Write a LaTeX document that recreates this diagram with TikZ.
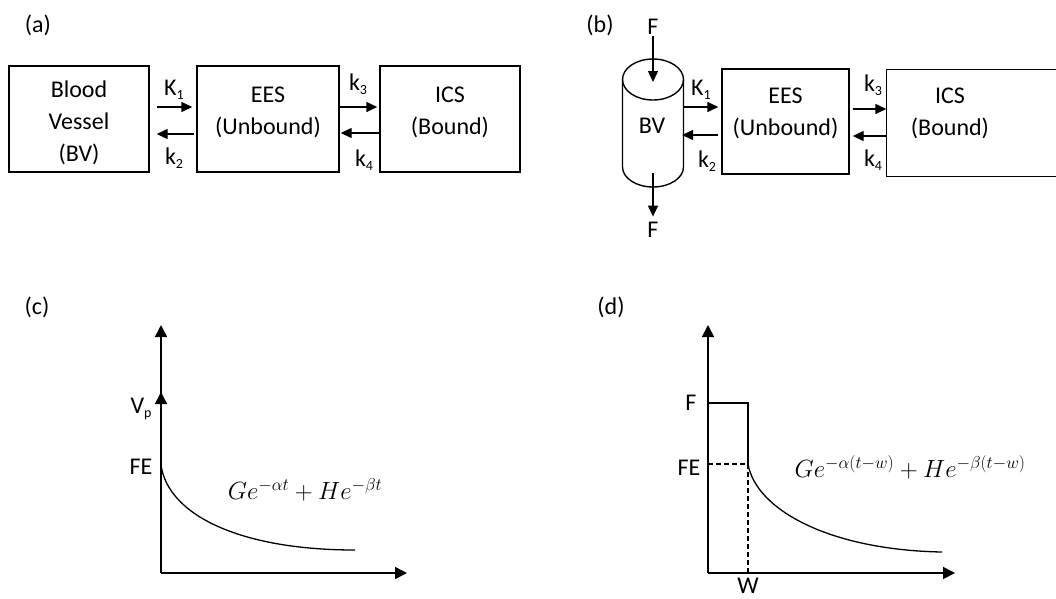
\documentclass[tikz,border=0pt]{standalone}
\usepackage{fontspec}
\setmainfont{Carlito}
\usetikzlibrary{arrows.meta}

% small lowered index for rate constants
\newcommand{\rsub}[1]{\raisebox{-4pt}{\fontsize{14}{14}\selectfont #1}}

\begin{document}
\begin{tikzpicture}[
    x=1pt, y=-1pt, line width=1.4pt,
    >={Triangle[length=11pt, width=10pt]},
    lbl/.style={inner sep=1pt, align=center, font=\fontsize{24}{32}\selectfont},
    box/.style={draw, rectangle, minimum height=106pt},
    flow/.style={->, line width=1.4pt},
    axis/.style={-{Triangle[length=12pt, width=12pt]}, line width=1.6pt},
    guide/.style={dash pattern=on 5pt off 3pt, line width=1.2pt}
]
\useasboundingbox (0,0) rectangle (1056,598);
\clip (0,0) rectangle (1056,598);

% -------------------------
% (a) Three compartments
% -------------------------
\node[lbl] (taga) at (38,25) {(a)};
\node[box, minimum width=140pt] (bva) at (79,119) {};
\node[box, minimum width=142pt] (eesa) at (268,119) {};
\node[box, minimum width=140pt] (icsa) at (450,119) {};
\node[lbl] (bvatext) at ([yshift=-4pt]bva.center) {Blood\\Vessel\\(BV)};
\node[lbl] (eesatext) at ([yshift=7pt]eesa.center) {EES\\(Unbound)};
\node[lbl] (icsatext) at ([yshift=7pt]icsa.center) {ICS\\(Bound)};

% rate arrows
\draw[flow, shorten <=7pt, shorten >=4pt] ([yshift=12pt]bva.east) -- ([yshift=12pt]eesa.west);
\draw[flow, shorten <=2pt, shorten >=7pt] ([yshift=-15pt]eesa.west) -- ([yshift=-15pt]bva.east);
\draw[flow, shorten >=2pt] ([yshift=12pt]eesa.east) -- ([yshift=12pt]icsa.west);
\draw[flow, shorten >=1pt] ([yshift=-14pt]icsa.west) -- ([yshift=-14pt]eesa.east);
\node[lbl] (k1a) at (174,90) {K\rsub{1}};
\node[lbl] (k2a) at (174,158) {k\rsub{2}};
\node[lbl] (k3a) at (358,84) {k\rsub{3}};
\node[lbl] (k4a) at (364,160) {k\rsub{4}};

% -------------------------
% (b) Vessel with flow
% -------------------------
\node[lbl] (tagb) at (600,25) {(b)};
\coordinate (cyltop) at (653,79.5);
\coordinate (cylbot) at (653,167);
\draw (cyltop) ellipse [x radius=30.5, y radius=20.5];
\draw ([xshift=-30.5pt]cyltop) -- ([xshift=-30.5pt]cylbot)
    arc [start angle=180, end angle=0, x radius=30.5, y radius=20]
    -- ([xshift=30.5pt]cyltop);
\node[lbl] (bvb) at (652,126) {BV};
\node[box, minimum width=127pt, minimum height=105pt] (eesb) at (785.5,121.5) {};
\node[box, draw=none, minimum width=126pt] (icsb) at (950,123) {};
\draw ([xshift=200pt]icsb.north west) -- (icsb.north west) -- (icsb.south west) -- ([xshift=200pt]icsb.south west);
\node[lbl] (eesbtext) at ([yshift=8.5pt]eesb.center) {EES\\(Unbound)};
\node[lbl] (icsbtext) at ([yshift=10pt]icsb.center) {ICS\\(Bound)};

% inflow and outflow
\node[lbl] (ftop) at (653,27) {F};
\node[lbl] (fbot) at (653,230) {F};
\draw[flow, shorten >=-2.5pt] (ftop) -- (cyltop);
\draw[flow, shorten >=4pt] ([yshift=-6pt]cylbot) -- (fbot);

% rate arrows
\coordinate (cylk1) at (684,107);
\coordinate (cylk2) at (684,135);
\draw[flow, shorten >=3pt] (cylk1) -- (cylk1 -| eesb.west);
\draw[flow, shorten <=3pt, shorten >=-2pt] (cylk2 -| eesb.west) -- (cylk2);
\draw[flow, shorten <=3pt] ([yshift=12.5pt]eesb.east) -- ([yshift=14pt]icsb.west);
\draw[flow, shorten >=3pt] ([yshift=-13pt]icsb.west) -- ([yshift=-14.5pt]eesb.east);
\node[lbl] (k1b) at (701,90) {K\rsub{1}};
\node[lbl] (k2b) at (707,161) {k\rsub{2}};
\node[lbl] (k3b) at (873,85) {k\rsub{3}};
\node[lbl] (k4b) at (873,160) {k\rsub{4}};

% -------------------------
% (c) Plasma curve
% -------------------------
\node[lbl] (tagc) at (37,307) {(c)};
\coordinate (oc) at (161,573);
\coordinate (ytopc) at (161,325);
\coordinate (vpc) at (161,392);
\coordinate (xendc) at (407,573);
\draw[axis] (oc) -- (ytopc);
\draw[axis] (oc) -- (vpc);
\draw[axis] (oc) -- (xendc);
\node[lbl] (vpl) at (141,409) {V\rsub{p}};
\node[lbl] (fec) at (141,467) {FE};
\coordinate (c0) at (161,465);
\coordinate (c1) at (355,550);
\draw[line width=1.3pt] (c0) .. controls (168,515) and (240,550) .. (c1);
\node[lbl] (formc) at (305,490) {$Ge^{-\alpha t}+He^{-\beta t}$};

% -------------------------
% (d) Infusion curve
% -------------------------
\node[lbl] (tagd) at (611,307) {(d)};
\coordinate (od) at (708,573);
\coordinate (ytopd) at (708,325);
\coordinate (xendd) at (955,573);
\draw[axis] (od) -- (ytopd);
\draw[axis] (od) -- (xendd);
\node[lbl] (fd) at (691,403) {F};
\node[lbl] (fed) at (689,468) {FE};
\node[lbl] (wd) at (748,586) {W};
\coordinate (fstart) at (708,403);
\coordinate (wtop) at (748,403);
\coordinate (wmid) at (748,464);
\coordinate (wbase) at (748,573);
\coordinate (d1) at (942,552);
\draw (fstart) -- (wtop) -- (wmid);
\draw[guide] (od |- wmid) -- (wmid) -- (wbase);
\draw[line width=1.3pt] (wmid) .. controls (756,510) and (830,550) .. (d1);
\node[lbl] (formd) at (910,467) {$Ge^{-\alpha(t-w)}+He^{-\beta(t-w)}$};

\end{tikzpicture}
\end{document}
